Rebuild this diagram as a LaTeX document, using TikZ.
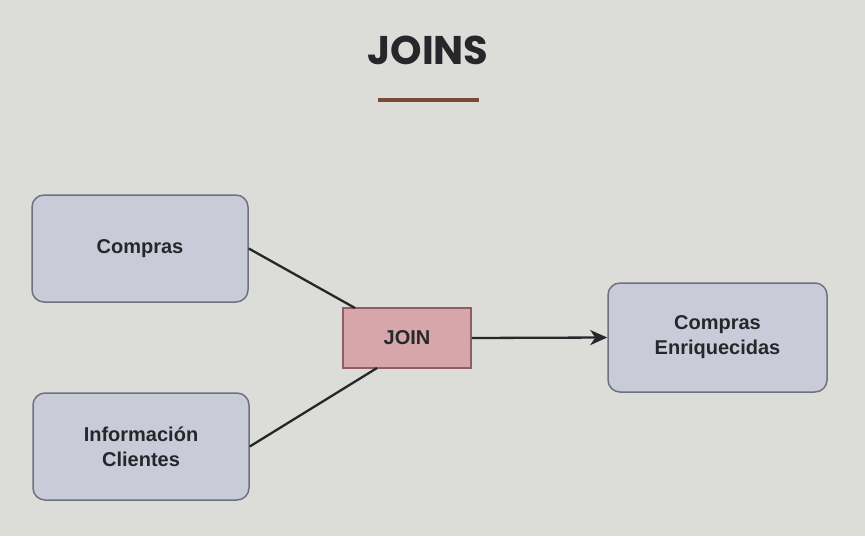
\documentclass[tikz,border=0pt]{standalone}
\usepackage{fontspec}
\setmainfont{Liberation Sans}
\newfontfamily\titlefont{Poppins}
\usetikzlibrary{arrows.meta}
\definecolor{bg}{HTML}{DCDCD8}
\definecolor{boxfill}{HTML}{C9CCD8}
\definecolor{boxline}{HTML}{6E7280}
\definecolor{joinfill}{HTML}{D6A6AA}
\definecolor{joinline}{HTML}{8E5E62}
\definecolor{txt}{HTML}{25272B}
\definecolor{rule}{HTML}{7A4A36}
\tikzset{
  databox/.style={draw=boxline, line width=1.5pt, fill=boxfill, rounded corners=12pt, text=txt,
    font=\bfseries\fontsize{20}{25}\selectfont, align=center, inner sep=0pt},
  joinbox/.style={draw=joinline, line width=1.5pt, fill=joinfill, text=txt,
    font=\bfseries\fontsize{20}{25}\selectfont, align=center, inner sep=0pt},
  link/.style={line width=2.3pt, draw=txt},
  titlestyle/.style={font=\titlefont\bfseries\fontsize{40}{44}\selectfont, text=txt},
}
\begin{document}
\begin{tikzpicture}[x=1pt,y=-1pt]
\path[fill=bg] (0,0) rectangle (865,536);
\useasboundingbox (0,0) rectangle (865,536);
\node[titlestyle] (title) at (428,50) {JOINS};
\draw[rule, line width=3.5pt] (378,100) -- (479,100);
\node[databox, minimum width=216pt, minimum height=107pt] (compras) at (140,248.5) {Compras};
\node[databox, minimum width=216pt, minimum height=107pt] (info) at (141,446.5) {Información\\Clientes};
\node[joinbox, minimum width=128pt, minimum height=60pt] (join) at (407,338) {JOIN};
\node[databox, minimum width=219pt, minimum height=109pt] (enr) at (717.5,337.5) {Compras\\Enriquecidas};
\coordinate (jtl) at (355,308);
\coordinate (jbl) at (377,368);
\draw[link] (compras.east) -- (jtl);
\draw[link] (info.east) -- (jbl);
\draw[link, -{Stealth[length=17pt,width=15pt,inset=5pt]}] (join.east) -- (enr.west);
\end{tikzpicture}
\end{document}
